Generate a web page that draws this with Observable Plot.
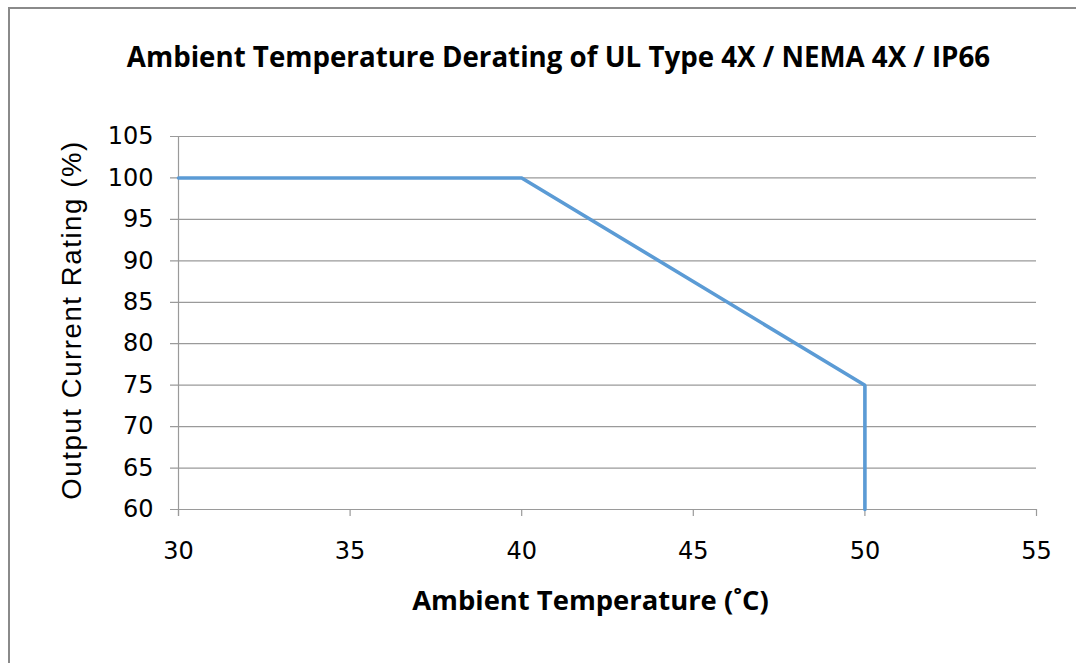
<!DOCTYPE html>
<html>
<head>
<meta charset="utf-8">
<script src="https://cdn.jsdelivr.net/npm/d3@7"></script>
<script src="https://cdn.jsdelivr.net/npm/@observablehq/plot@0.6"></script>
<style>
  html, body { margin: 0; padding: 0; background: #fff; }
  #wrap { position: relative; width: 1076px; height: 663px; overflow: hidden; }
  #frame { position: absolute; left: 8px; top: 7px; right: -10px; bottom: -10px;
           border-left: 2px solid #8a8a8a; border-top: 2px solid #8a8a8a; }
  #chart { position: absolute; left: 0; top: 0; }
  #chart svg .ttl text { font-family: "Open Sans", sans-serif !important; font-size: 27.7px !important; font-weight: 700; }
  #chart svg .xl text { font-family: "Open Sans", sans-serif !important; font-size: 27.4px !important; font-weight: 700; }
  #chart svg .tk text { font-family: "DejaVu Sans", sans-serif !important; font-size: 24px !important; }
  #chart svg .yl text { font-family: "Liberation Sans", Arial, sans-serif !important; font-size: 27.5px !important; letter-spacing: 1.6px; }
</style>
</head>
<body>
<div id="wrap"><div id="frame"></div><div id="chart"></div></div>
<script>
const title = "Ambient Temperature Derating of UL Type 4X / NEMA 4X / IP66";
const xLabel = "Ambient Temperature (˚C)";
const yLabel = "Output Current Rating (%)";
const temperature = [30, 40, 50, 50];
const rating = [100, 100, 75, 60];
const xTicks = [30, 35, 40, 45, 50, 55];
const yTicks = [60, 65, 70, 75, 80, 85, 90, 95, 100, 105];

const data = temperature.map((t, i) => ({t, r: rating[i]}));
const gridCol = "#9a9a9a";

const chart = Plot.plot({
  width: 1076,
  height: 663,
  marginLeft: 178,
  marginRight: 40,
  marginTop: 136,
  marginBottom: 154,
  style: {background: "transparent", color: "#000"},
  x: {domain: [30, 55], axis: null},
  y: {domain: [60, 105], axis: null},
  marks: [
    Plot.ruleY(yTicks, {stroke: gridCol, strokeWidth: 1.2, insetLeft: -8}),
    Plot.ruleX([30], {stroke: gridCol, strokeWidth: 1.2, insetBottom: -7}),
    Plot.axisX(xTicks, {tickSize: 7, tickFormat: () => "", stroke: gridCol, strokeWidth: 1.2, label: null}),
    Plot.text(yTicks, {x: 30, y: d => d, text: d => String(d), dx: -25, textAnchor: "end", fill: "#000", className: "tk"}),
    Plot.text(xTicks, {x: d => d, y: 60, text: d => String(d), dy: 42, fill: "#000", className: "tk"}),
    Plot.line(data, {x: "t", y: "r", stroke: "#5b9bd5", strokeWidth: 3.6, strokeLinejoin: "miter"}),
    Plot.text([title], {frameAnchor: "top", dx: -49, dy: -89, lineAnchor: "top", fill: "#000", className: "ttl"}),
    Plot.text([xLabel], {frameAnchor: "bottom", dx: -17, dy: 81, lineAnchor: "top", fill: "#000", className: "xl"}),
    Plot.text([yLabel], {frameAnchor: "left", textAnchor: "middle", dx: -106, dy: -3, rotate: -90, fill: "#000", className: "yl"})
  ]
});
document.getElementById("chart").appendChild(chart);
</script>
</body>
</html>
